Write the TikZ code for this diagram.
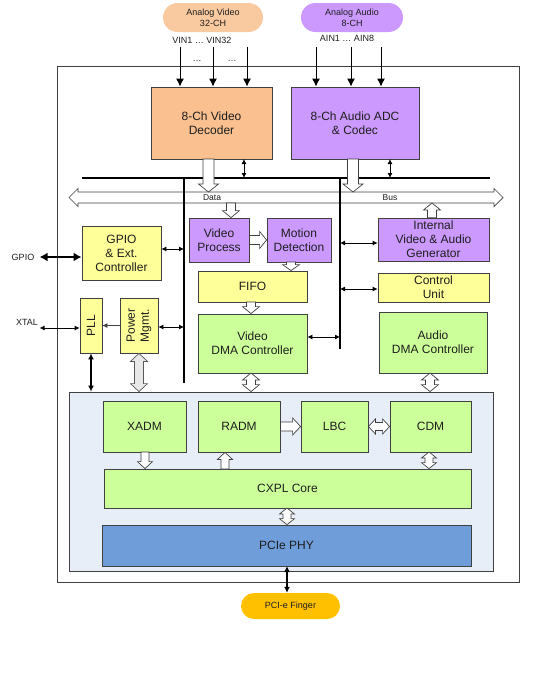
\documentclass[tikz,border=0pt]{standalone}
\usepackage{fontspec}
\setmainfont{Liberation Sans}
\usetikzlibrary{arrows.meta,calc}
\definecolor{bdr}{HTML}{404040}
\definecolor{txt}{HTML}{1E1E1E}
\definecolor{cdec}{HTML}{FAC090}
\definecolor{cavin}{HTML}{F9C9A0}
\definecolor{cpur}{HTML}{CC99FF}
\definecolor{cyel}{HTML}{FFFF99}
\definecolor{cgrn}{HTML}{CCFF99}
\definecolor{cbg}{HTML}{E8EEF7}
\definecolor{cphy}{HTML}{6E9DDA}
\definecolor{cfin}{HTML}{FFC000}
\newcommand\boxfnt{\fontsize{12}{14}\selectfont}
\newcommand\smallfnt{\fontsize{9}{11}\selectfont}
% hollow single arrow: [style]{from}{to}{shaft half width}{head half width}{head length}
\newcommand\hsingle[6][]{%
  \path[hollow,#1] let \p1=#2, \p2=#3,
     \n1={atan2(\y2-\y1,\x2-\x1)}, \n2={veclen(\x2-\x1,\y2-\y1)}, \n3={\n2-#6pt} in
     ($(\p1)+(\n1-90:#4pt)$) -- ($(\p1)+(\n1:\n3)+(\n1-90:#4pt)$) --
     ($(\p1)+(\n1:\n3)+(\n1-90:#5pt)$) -- (\p2) --
     ($(\p1)+(\n1:\n3)+(\n1+90:#5pt)$) -- ($(\p1)+(\n1:\n3)+(\n1+90:#4pt)$) --
     ($(\p1)+(\n1+90:#4pt)$) -- cycle;}
% hollow double arrow
\newcommand\hdouble[6][]{%
  \path[hollow,#1] let \p1=#2, \p2=#3,
     \n1={atan2(\y2-\y1,\x2-\x1)}, \n2={veclen(\x2-\x1,\y2-\y1)}, \n3={\n2-#6pt} in
     (\p1) -- ($(\p1)+(\n1:#6pt)+(\n1+90:#5pt)$) -- ($(\p1)+(\n1:#6pt)+(\n1+90:#4pt)$) --
     ($(\p1)+(\n1:\n3)+(\n1+90:#4pt)$) -- ($(\p1)+(\n1:\n3)+(\n1+90:#5pt)$) -- (\p2) --
     ($(\p1)+(\n1:\n3)+(\n1-90:#5pt)$) -- ($(\p1)+(\n1:\n3)+(\n1-90:#4pt)$) --
     ($(\p1)+(\n1:#6pt)+(\n1-90:#4pt)$) -- ($(\p1)+(\n1:#6pt)+(\n1-90:#5pt)$) -- cycle;}
\begin{document}
\begin{tikzpicture}[x=1pt,y=1pt,
  blk/.style={draw=bdr, line width=0.8pt, align=center, inner sep=1pt, font=\boxfnt, text=txt},
  pill/.style={align=center, inner sep=1pt, font=\smallfnt, text=txt},
  lbl/.style={font=\smallfnt, text=txt, inner sep=0pt},
  thinarr/.style={line width=0.8pt, {Latex[length=5pt,width=5pt]}-{Latex[length=5pt,width=5pt]}},
  inarr/.style={line width=1pt, -{Latex[length=8pt,width=8pt]}},
  hollow/.style={draw=bdr, line width=0.7pt, fill=white, line join=miter},
  bar/.style={line width=2pt, black}]
\useasboundingbox (0,0) rectangle (540,-680);

% outer chip
\node[draw=bdr, line width=0.9pt, minimum width=462, minimum height=516, inner sep=0] (chip) at (288,-324) {};

% inputs
\node[pill, fill=cavin, rounded corners=14.5pt, minimum width=100, minimum height=29] (avin) at (213,-17.5) {Analog Video\\32-CH};
\node[pill, fill=cpur, rounded corners=14.5pt, minimum width=102, minimum height=29] (aain) at (352,-17.5) {Analog Audio\\8-CH};
\node[lbl] (vinlbl) at (202,-40) {VIN1 … VIN32};
\node[lbl] (ainlbl) at (347,-38.5) {AIN1 … AIN8};
\node[lbl] (dots1) at (197,-61) {…};
\node[lbl] (dots2) at (232,-61) {…};

% top blocks
\node[blk, fill=cdec, minimum width=121, minimum height=72] (dec) at (211.5,-123) {8-Ch Video\\Decoder};
\node[blk, fill=cpur, minimum width=128, minimum height=72] (adc) at (355,-123) {8-Ch Audio ADC\\\& Codec};

\foreach \i/\xx in {1/180,2/213,3/247}{
  \coordinate (vi\i) at (\xx,-47);
  \draw[inarr] (vi\i) -- (vi\i |- dec.north);}
\foreach \i/\xx in {1/316,2/351,3/381}{
  \coordinate (ai\i) at (\xx,-47);
  \draw[inarr] (ai\i) -- (ai\i |- adc.north);}

% bus
\coordinate (busL) at (69,-197.5);
\coordinate (busR) at (503,-197.5);
\coordinate (hbL) at (82,-178);
\coordinate (hbR) at (490,-178);
\coordinate (v1t) at (184,-178);
\coordinate (v1b) at (184,-383);
\coordinate (v2t) at (340,-178);
\coordinate (v2b) at (340,-349);
\hdouble{(busL)}{(busR)}{5.5}{9}{9}
\node[lbl, font=\fontsize{8.5}{10}\selectfont] (datalbl) at (212,-198) {Data};
\node[lbl, font=\fontsize{8.5}{10}\selectfont] (buslbl) at (390,-198) {Bus};
\draw[bar] (v1t) -- (v1b);
\draw[bar] (v2t) -- (v2b);
\draw[bar] (hbL) -- (hbR);

\coordinate (decd) at (208.5,-159);
\coordinate (adcd) at (353,-159);
\hsingle{(decd)}{($(decd |- busL)+(0,5.5)$)}{5.5}{10}{8}
\hsingle{(adcd)}{($(adcd |- busL)+(0,5.5)$)}{5.5}{10}{8}
\coordinate (decs) at (244,-159);
\coordinate (adcs) at (390,-159);
\draw[thinarr] (decs) -- (decs |- hbL);
\draw[thinarr] (adcs) -- (adcs |- hbL);

% middle blocks
\node[blk, fill=cpur, minimum width=60, minimum height=44] (vp) at (219,-240) {Video\\Process};
\node[blk, fill=cpur, minimum width=64, minimum height=44] (md) at (299,-240) {Motion\\Detection};
\node[blk, fill=cpur, minimum width=111, minimum height=43] (gen) at (433.5,-239.5) {Internal\\Video \& Audio\\Generator};
\node[blk, fill=cyel, minimum width=111, minimum height=29] (ctrl) at (433.5,-287.5) {Control\\Unit};
\node[blk, fill=cgrn, minimum width=108, minimum height=61] (adma) at (433,-342.5) {Audio\\DMA Controller};
\node[blk, fill=cyel, minimum width=109, minimum height=31] (fifo) at (252.5,-286.5) {FIFO};
\node[blk, fill=cgrn, minimum width=109, minimum height=59] (vdma) at (252.5,-343.5) {Video\\DMA Controller};
\node[blk, fill=cyel, minimum width=79, minimum height=54] (gpio) at (121.5,-253) {GPIO\\\& Ext.\\Controller};
\node[blk, fill=cyel, minimum width=22, minimum height=55] (pll) at (91,-325.5) {};
\node[rotate=90, font=\boxfnt, text=txt, inner sep=0] (pllt) at (pll) {PLL};
\node[blk, fill=cyel, minimum width=38, minimum height=55] (pwr) at (139,-325.5) {};
\node[rotate=90, font=\boxfnt, text=txt, inner sep=0, align=center] (pwrt) at (pwr) {Power\\Mgmt.};

\node[lbl] (gpiolbl) at (23,-257) {GPIO};
\node[lbl] (xtallbl) at (27,-322) {XTAL};

% middle connectors
\coordinate (bvp) at (231,-203);
\hsingle{(bvp)}{(bvp |- vp.north)}{4.5}{8.5}{7}
\coordinate (bgen) at (432,-203);
\hsingle{(bgen |- gen.north)}{(bgen)}{4.5}{8.5}{7}
\hsingle{(vp.east)}{(md.west)}{4.5}{8.5}{7}
\coordinate (mdd) at (291,-262);
\hsingle{(mdd)}{(mdd |- fifo.north)}{4.5}{8.5}{6}
\coordinate (ffd) at (251,-302);
\hsingle{(ffd)}{(ffd |- vdma.north)}{4.5}{8.5}{7}
\draw[thinarr] ([yshift=-3.5]gen.west -| v2t) -- ([yshift=-3.5]gen.west);
\draw[thinarr] ([yshift=-1.5]ctrl.west -| v2t) -- ([yshift=-1.5]ctrl.west);
\draw[thinarr] ([yshift=6.5]vdma.east) -- ([yshift=6.5]vdma.east -| v2t);
\draw[thinarr] ([yshift=4]gpio.east) -- ([yshift=4]gpio.east -| v1t);
\draw[thinarr] ([yshift=-1.5]pwr.east) -- ([yshift=-1.5]pwr.east -| v1t);
\draw[line width=2pt, {Latex[length=8pt,width=9pt]}-{Latex[length=8pt,width=9pt]}] ($(gpio.west)+(-42,-4)$) -- ([yshift=-4]gpio.west);
\draw[thinarr] ($(pll.west)+(-40,-2.5)$) -- ([yshift=-2.5]pll.west);
\draw[line width=0.8pt, draw=bdr, -{Latex[length=5pt,width=5pt]}] (pwr.west) -- (pll.east);

% PCIe area
\node[draw=bdr, line width=0.8pt, fill=cbg, minimum width=424, minimum height=179, inner sep=0] (pcie) at (281,-481.5) {};
\draw[line width=1.3pt, {Latex[length=6pt,width=6pt]}-{Latex[length=6pt,width=6pt]}] (pll.south) -- (pll.south |- pcie.north);
\hdouble[fill=gray!18, draw=gray!70!black]{(pwr.south)}{(pwr.south |- pcie.north)}{4.5}{8.5}{8}
\coordinate (vdd) at (251,-373);
\hdouble{(vdd)}{(vdd |- pcie.north)}{4.5}{8.5}{7}
\coordinate (add) at (430,-373);
\hdouble{(add)}{(add |- pcie.north)}{4.5}{8.5}{7}

\node[blk, fill=cgrn, minimum width=83, minimum height=51] (xadm) at (144.5,-426.5) {XADM};
\node[blk, fill=cgrn, minimum width=82, minimum height=51] (radm) at (239,-426.5) {RADM};
\node[blk, fill=cgrn, minimum width=67, minimum height=51] (lbc) at (334.5,-426.5) {LBC};
\node[blk, fill=cgrn, minimum width=81, minimum height=51] (cdm) at (430.5,-426.5) {CDM};
\node[blk, fill=cgrn, minimum width=367, minimum height=39] (cxpl) at (287.5,-488.5) {CXPL Core};
\node[blk, fill=cphy, minimum width=369, minimum height=41] (phy) at (286.5,-545.5) {PCIe PHY};
\node[pill, fill=cfin, rounded corners=13pt, minimum width=99, minimum height=26] (finger) at (290.5,-606) {PCI-e Finger};

\coordinate (xd) at (145,-452);
\hsingle{(xd)}{(xd |- cxpl.north)}{4}{7.5}{7}
\coordinate (ru) at (225,-469);
\hsingle{(ru)}{(ru |- radm.south)}{4}{7.5}{7}
\hsingle{(radm.east)}{(lbc.west)}{4.5}{8.5}{8}
\hdouble{(lbc.east)}{(cdm.west)}{4}{7.5}{7}
\coordinate (cd) at (429,-452);
\hdouble{(cd)}{(cd |- cxpl.north)}{4}{7.5}{6}
\coordinate (cp) at (287,-508);
\hdouble{(cp)}{(cp |- phy.north)}{4}{7.5}{6}
\coordinate (pf) at (287,-566);
\draw[line width=1.5pt, {Latex[length=6pt,width=6pt]}-{Latex[length=6pt,width=6pt]}] (pf) -- (pf |- finger.north);
\end{tikzpicture}
\end{document}
